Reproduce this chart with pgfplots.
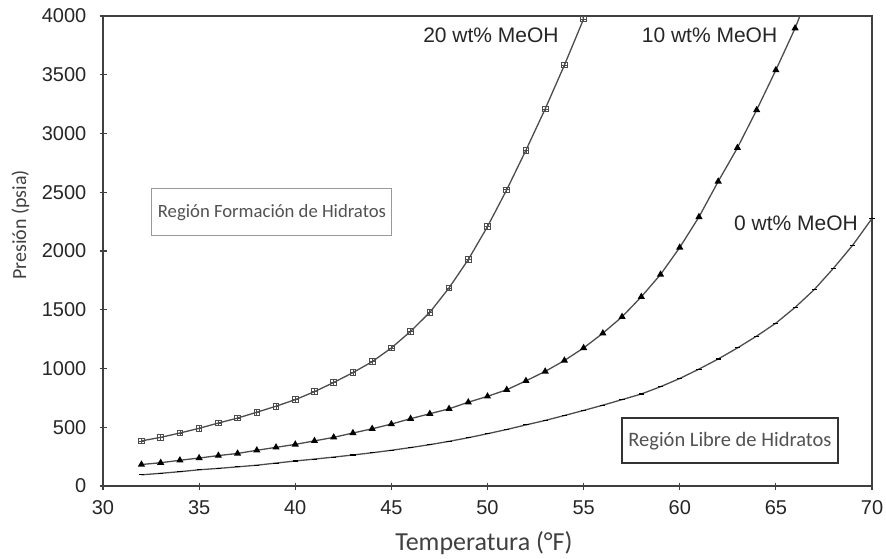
\documentclass[border=0pt]{standalone}
\usepackage{fontspec}
\setmainfont{Carlito}
\newfontfamily\arialfont{Liberation Sans}
\usepackage{pgfplots}
\usepackage{pgfplotstable}
\pgfplotsset{compat=1.18}

% hydrate curves (T in F, P in psia)
\pgfplotstableread{
T P
32 384
33 414
34 451
35 491
36 536
37 578
38 628
39 679
40 735
41 803
42 881
43 965
44 1058
45 1175
46 1316
47 1478
48 1686
49 1927
50 2208
51 2521
52 2858
53 3209
54 3582
55 3975
}\meohtwenty

\pgfplotstableread{
T P
32 183
33 198
34 219
35 238
36 259
37 277
38 304
39 329
40 354
41 384
42 414
43 451
44 487
45 527
46 573
47 615
48 657
49 713
50 763
51 819
52 895
53 975
54 1068
55 1175
56 1300
57 1440
58 1610
59 1800
60 2030
61 2290
62 2592
63 2878
64 3200
65 3540
66 3896
}\meohten

\pgfplotstableread{
T P
32 95
33 108
34 122
35 138
36 150
37 163
38 177
39 195
40 213
41 229
42 246
43 264
44 283
45 304
46 327
47 352
48 380
49 411
50 445
51 481
52 520
53 558
54 600
55 643
56 688
57 735
58 783
59 845
60 915
61 995
62 1081
63 1175
64 1276
65 1386
66 1520
67 1672
68 1854
69 2050
70 2277
}\meohzero

\definecolor{curve}{gray}{0.30}
\definecolor{frame}{gray}{0.25}
\definecolor{boxtext}{gray}{0.32}

\begin{document}
\begin{tikzpicture}
\useasboundingbox (0,0) rectangle (886pt,558pt);
\begin{axis}[
    at={(103pt,72pt)}, anchor=south west,
    width=769pt, height=470pt, scale only axis,
    xmin=30, xmax=70, ymin=0, ymax=4000,
    xtick={30,35,...,70}, ytick={0,500,...,4000},
    xtick pos=bottom, ytick pos=left,
    tick align=center, major tick length=7pt,
    tick style={frame, line width=1.1pt},
    axis line style={frame, line width=1.3pt},
    /pgf/number format/1000 sep={},
    /pgf/number format/assume math mode=true,
    tick label style={font=\arialfont\fontsize{20}{20}\selectfont, text=black!85},
    yticklabel style={inner sep=0pt, xshift=-13pt},
    xticklabel style={inner sep=0pt, yshift=-11pt},
    clip=true,
  ]
  % 20 wt% MeOH
  \addplot[curve, line width=1.3pt, mark=square, mark size=2.8pt,
           mark options={solid, fill=white, line width=0.9pt}] table[x=T,y=P] {\meohtwenty};
  \addplot[only marks, curve, mark=+, mark size=2.8pt,
           mark options={line width=0.7pt}] table[x=T,y=P] {\meohtwenty};
  \addplot[curve, line width=1.3pt] coordinates {(55,3975) (54.95,4000)};
  % 10 wt% MeOH
  \addplot[curve, line width=1.3pt, mark=triangle*, mark size=2.9pt,
           mark options={solid, black, fill=black}] table[x=T,y=P] {\meohten};
  \addplot[curve, line width=1.3pt] coordinates {(66,3896) (66.25,4000)};
  % 0 wt% MeOH
  \addplot[curve, line width=1.3pt, mark=-, mark size=2.6pt,
           mark options={solid, black, line width=1.1pt}] table[x=T,y=P] {\meohzero};

  \node[font=\arialfont\fontsize{21}{21}\selectfont, text=black!85] at (axis cs:50.18,3838) {20 wt\% MeOH};
  \node[font=\arialfont\fontsize{21}{21}\selectfont, text=black!85] at (axis cs:61.55,3834) {10 wt\% MeOH};
  \node[font=\arialfont\fontsize{21}{21}\selectfont, text=black!85] at (axis cs:66.05,2238) {0 wt\% MeOH};

  \node[draw=black!40, line width=1pt, fill=white, text=boxtext, inner sep=0pt,
        minimum width=240pt, minimum height=47pt, font=\fontsize{18.7}{19}\selectfont]
        at (axis cs:38.79,2328) {Región Formación de Hidratos};
  \node[draw=black!80, line width=1.6pt, fill=white, text=boxtext, inner sep=0pt,
        minimum width=216pt, minimum height=45pt, font=\fontsize{20.5}{21}\selectfont]
        at (axis cs:62.61,386) {Región Libre de Hidratos};
\end{axis}
\node[rotate=90, anchor=base, text=black!75, font=\fontsize{20}{20}\selectfont] at (26pt,333pt) {Presión (psia)};
\node[anchor=base, text=black!75, font=\fontsize{26}{26}\selectfont] at (484pt,8pt) {Temperatura (°F)};
\end{tikzpicture}
\end{document}
